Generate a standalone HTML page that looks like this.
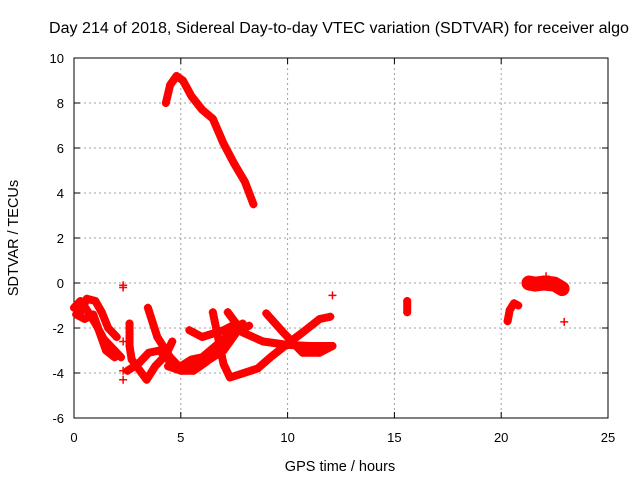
<!DOCTYPE html>
<html><head><meta charset="utf-8"><style>
body{margin:0;background:#fff}
svg{display:block;font-family:"Liberation Sans",sans-serif}
</style></head><body>
<svg id="chart" width="640" height="480"></svg>
<script>
const xTicks=[0,5,10,15,20,25];
const yTicks=[-6,-4,-2,0,2,4,6,8,10];
const titleText="Day 214 of 2018, Sidereal Day-to-day VTEC variation (SDTVAR) for receiver algo";
// tracks: arrays of [hour, TECU]
const trackTop=[[4.3,8.0],[4.5,8.8],[4.8,9.2],[5.1,9.0],[5.5,8.3],[6.0,7.7],[6.5,7.3],[7.0,6.2],[7.5,5.3],[8.0,4.5],[8.4,3.5]];
const trackA1=[[0.0,-1.1],[0.3,-0.8],[0.6,-1.2],[1.0,-1.8],[1.4,-2.5],[1.8,-2.9],[2.2,-3.3]];
const trackA2=[[0.3,-1.3],[0.6,-0.7],[1.0,-0.8],[1.3,-1.3],[1.6,-2.0],[2.0,-2.4]];
const trackA3=[[0.1,-1.4],[0.5,-1.6],[0.9,-1.4],[1.2,-2.2],[1.5,-3.0],[1.9,-3.3]];
const trackB1=[[2.6,-1.8],[2.6,-2.8],[2.7,-3.4],[3.4,-4.3],[3.8,-3.7],[4.3,-3.2],[4.6,-2.6]];
const trackB2=[[3.46,-1.1],[3.9,-2.4],[4.5,-3.3],[5.1,-3.9],[5.6,-3.9],[6.2,-3.5]];
const trackB3=[[2.5,-3.9],[3.0,-3.6],[3.5,-3.1],[4.0,-3.0],[4.5,-3.5],[5.0,-3.7],[5.5,-3.4],[6.0,-3.3],[7.0,-2.5],[7.9,-1.8]];
const trackB4=[[5.4,-2.1],[6.0,-2.4],[7.0,-2.1],[7.6,-1.8],[8.0,-2.0]];
const trackC1=[[6.5,-1.3],[7.0,-3.6],[7.3,-4.2],[8.6,-3.8],[9.2,-3.3],[10.0,-2.7],[10.7,-2.2],[11.5,-1.6],[12.0,-1.5]];
const trackC2=[[9.0,-1.35],[9.8,-2.2],[10.7,-3.1],[11.5,-3.1],[12.1,-2.8]];
const trackC3=[[7.2,-1.3],[7.9,-2.2],[8.85,-2.6],[10.0,-2.75],[11.05,-2.8],[12.1,-2.8]];
const trackC4=[[4.4,-3.7],[5.0,-3.9],[6.0,-3.6],[7.0,-3.0],[7.6,-2.2],[8.2,-1.9]];
const trackD=[[15.6,-0.8],[15.6,-1.3]];
const trackE=[[20.3,-1.7],[20.4,-1.2],[20.6,-0.9],[20.8,-1.0]];
const trackF=[[21.3,0.0],[21.6,-0.05],[22.0,0.0],[22.5,-0.05],[22.85,-0.25]];
const singlePoints=[[2.3,-0.2],[2.3,-0.1],[2.3,-2.6],[2.3,-3.9],[2.3,-4.3],[3.5,-1.2],[7.2,-1.3],[12.1,-0.55],[22.95,-1.73],[22.1,0.3]];
const tracks=[trackTop,trackA1,trackA2,trackA3,trackB1,trackB2,trackB3,trackB4,trackC1,trackC2,trackC3,trackC4,trackD,trackE];
const wideTracks=[trackF];

const L=74,R=608,T=58,B=418;
const xS=v=>L+(v-0)/25*(R-L);
const yS=v=>B-(v+6)/16*(B-T);
const svg=document.getElementById('chart');
const NS='http://www.w3.org/2000/svg';
function mk(tag,attrs,parent){const e=document.createElementNS(NS,tag);for(const k in attrs)e.setAttribute(k,attrs[k]);(parent||svg).appendChild(e);return e;}

xTicks.forEach(t=>{if(t>0&&t<25){const g=mk('line',{x1:xS(t),x2:xS(t),y1:T,y2:B,stroke:'#a0a0a0','stroke-dasharray':'2,3','stroke-width':1});

}});
yTicks.forEach(t=>{if(t>-6&&t<10){const g=mk('line',{x1:L,x2:R,y1:yS(t),y2:yS(t),stroke:'#a0a0a0','stroke-dasharray':'2,3','stroke-width':1});

}});
const fr=mk('rect',{x:L,y:T,width:R-L,height:B-T,fill:'none',stroke:'#000','stroke-width':1});


xTicks.forEach(t=>{
 mk('line',{x1:xS(t),x2:xS(t),y1:B,y2:B-6,stroke:'#000'});
 mk('line',{x1:xS(t),x2:xS(t),y1:T,y2:T+6,stroke:'#000'});
 const tx=mk('text',{x:xS(t),y:B+24,'text-anchor':'middle','font-size':13});tx.textContent=t;
 
 
});
yTicks.forEach(t=>{
 mk('line',{x1:L,x2:L+6,y1:yS(t),y2:yS(t),stroke:'#000'});
 mk('line',{x1:R,x2:R-6,y1:yS(t),y2:yS(t),stroke:'#000'});
 const tx=mk('text',{x:L-10,y:yS(t)+5,'text-anchor':'end','font-size':13});tx.textContent=t;
 
 
});
tracks.forEach(tr=>{
 const p=mk('polyline',{points:tr.map(d=>xS(d[0])+','+yS(d[1])).join(' '),fill:'none',stroke:'#ff0000','stroke-width':8,'stroke-linejoin':'round','stroke-linecap':'round'});
 
 
});
wideTracks.forEach(tr=>{
 const p=mk('polyline',{points:tr.map(d=>xS(d[0])+','+yS(d[1])).join(' '),fill:'none',stroke:'#ff0000','stroke-width':15,'stroke-linejoin':'round','stroke-linecap':'round'});
 
 
});
singlePoints.concat(...tracks).forEach(d=>{
 const x=xS(d[0]),y=yS(d[1]);
 const g=mk('path',{d:`M${x-4},${y}H${x+4}M${x},${y-4}V${y+4}`,stroke:'#ff0000','stroke-width':1.5});
 
 
});
const ti=mk('text',{x:339,y:33,'text-anchor':'middle','font-size':15.5,textLength:580,lengthAdjust:'spacingAndGlyphs'});ti.textContent=titleText;


const xt=mk('text',{x:340,y:471,'text-anchor':'middle','font-size':14.5});xt.textContent='GPS time / hours';


const yt=mk('text',{x:0,y:0,'text-anchor':'middle','font-size':14.5,transform:'translate(18,238) rotate(-90)'});yt.textContent='SDTVAR / TECUs';


</script>
</body></html>
